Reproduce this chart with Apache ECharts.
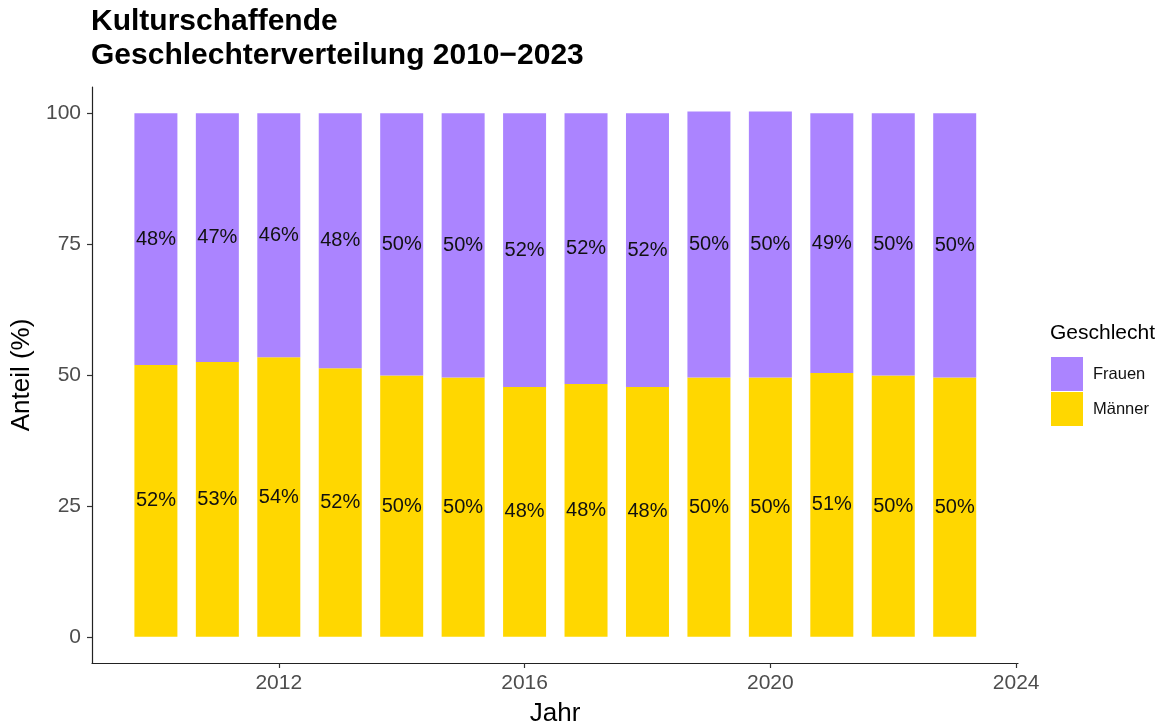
<!DOCTYPE html>
<html>
<head>
<meta charset="utf-8">
<script src="https://cdn.jsdelivr.net/npm/echarts@6/dist/echarts.min.js"></script>
<style>
  html, body { margin: 0; padding: 0; background: #fff; }
  #chart { width: 1155px; height: 727px; }
</style>
</head>
<body>
<div id="chart"></div>
<script>
// Jahre und Anteile
const years = ['2010', '2011', '2012', '2013', '2014', '2015', '2016', '2017', '2018', '2019', '2020', '2021', '2022', '2023'];
const maenner = [51.9, 52.5, 53.4, 51.3, 49.9, 49.5, 47.7, 48.3, 47.7, 49.5, 49.5, 50.4, 49.9, 49.5];
const frauen = [48.1, 47.5, 46.6, 48.7, 50.1, 50.5, 52.3, 51.7, 52.3, 50.8, 50.8, 49.6, 50.1, 50.5];
// Beschriftungen wie im Original (gerundete Prozente)
const maennerLabels = [52, 53, 54, 52, 50, 50, 48, 48, 48, 50, 50, 51, 50, 50];
const frauenLabels = [48, 47, 46, 48, 50, 50, 52, 52, 52, 50, 50, 49, 50, 50];
const xTicks = [2012, 2016, 2020, 2024];
const yTicks = [0, 25, 50, 75, 100];

const font = 'Liberation Sans, Arial, sans-serif';
const chart = echarts.init(document.getElementById('chart'));

// Jahresachse (sichtbar) geht von 2008.96 bis 2024.03, die Balken liegen in einem
// zweiten Grid, dessen Kategorien genau auf die Jahre fallen
const axMin = 2008.96, axMax = 2024.03;
const gLeft = 92, gRight = 137;
const pxPerYear = (1155 - gLeft - gRight) / (axMax - axMin);
const barLeft = gLeft + (2010 - 0.5 - axMin) * pxPerYear;
const barRight = 1155 - (gLeft + (2023 + 0.5 - axMin) * pxPerYear);

function labelCfg(labels) {
  return {
    show: true,
    position: 'inside',
    fontFamily: font,
    fontSize: 20,
    color: '#111',
    formatter: p => labels[p.dataIndex] + '%'
  };
}

chart.setOption({
  animation: false,
  title: [
    {
      text: 'Kulturschaffende\nGeschlechterverteilung 2010\u22122023',
      left: 91,
      top: 4,
      padding: 0,
      textStyle: { fontFamily: font, fontWeight: 'bold', fontSize: 30, lineHeight: 34.5, color: '#000' }
    },
    {
      text: 'Geschlecht',
      left: 1050,
      top: 323,
      padding: 0,
      textStyle: { fontFamily: font, fontWeight: 'normal', fontSize: 21, color: '#000' }
    }
  ],
  legend: {
    data: ['Frauen', 'Männer'],
    orient: 'vertical',
    left: 1051,
    top: 357,
    padding: 0,
    icon: 'rect',
    itemWidth: 32,
    itemHeight: 34,
    itemGap: 1,
    textStyle: { fontFamily: font, fontSize: 16.5, color: '#111', padding: [0, 0, 0, 5] }
  },
  grid: [
    { left: gLeft, right: gRight, top: 87, bottom: 64, outerBoundsMode: 'none' },
    { left: barLeft, right: barRight, top: 87, bottom: 64, outerBoundsMode: 'none' }
  ],
  xAxis: [
    {
      type: 'value',
      gridIndex: 0,
      min: axMin,
      max: axMax,
      name: 'Jahr',
      nameLocation: 'middle',
      nameGap: 38,
      nameTextStyle: { fontFamily: font, fontSize: 26, color: '#000' },
      splitLine: { show: false },
      axisLine: { onZero: false, lineStyle: { color: '#222', width: 1.2 } },
      axisTick: { show: true, length: 5, customValues: xTicks, lineStyle: { color: '#333', width: 1.2 } },
      axisLabel: { customValues: xTicks, margin: 10, fontFamily: font, fontSize: 21, color: '#4d4d4d', formatter: v => String(v) }
    },
    {
      type: 'category',
      gridIndex: 1,
      data: years,
      show: false
    }
  ],
  yAxis: [
    {
      type: 'value',
      gridIndex: 0,
      min: -5,
      max: 105,
      name: 'Anteil (%)',
      nameLocation: 'middle',
      nameGap: 45,
      nameTextStyle: { fontFamily: font, fontSize: 26, color: '#000' },
      splitLine: { show: false },
      axisLine: { show: true, onZero: false, lineStyle: { color: '#222', width: 1.2 } },
      axisTick: { show: true, length: 5, customValues: yTicks, lineStyle: { color: '#333', width: 1.2 } },
      axisLabel: { customValues: yTicks, margin: 11, fontFamily: font, fontSize: 21, color: '#4d4d4d' }
    },
    {
      type: 'value',
      gridIndex: 1,
      min: -5,
      max: 105,
      show: false,
      splitLine: { show: false }
    }
  ],
  series: [
    {
      name: 'Männer',
      type: 'bar',
      xAxisIndex: 1,
      yAxisIndex: 1,
      stack: 'anteil',
      barWidth: 43,
      itemStyle: { color: '#FFD700' },
      label: labelCfg(maennerLabels),
      data: maenner
    },
    {
      name: 'Frauen',
      type: 'bar',
      xAxisIndex: 1,
      yAxisIndex: 1,
      stack: 'anteil',
      barWidth: 43,
      itemStyle: { color: '#AB84FF' },
      label: labelCfg(frauenLabels),
      data: frauen
    }
  ]
});
</script>
</body>
</html>
